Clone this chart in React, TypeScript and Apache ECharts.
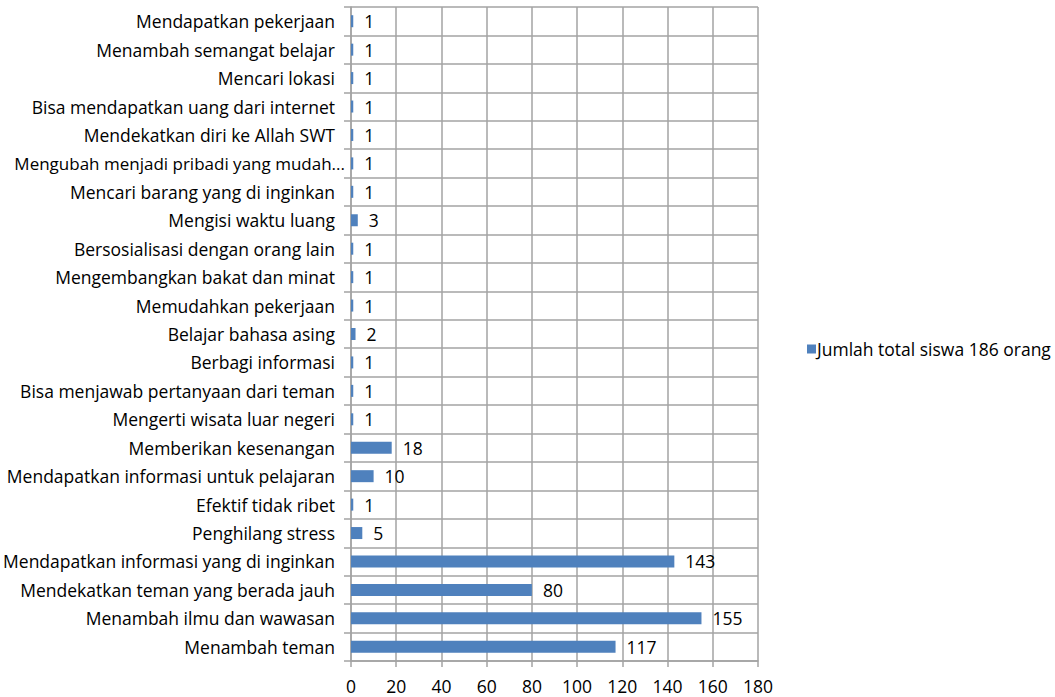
import React, { useEffect, useRef } from "react";
import * as echarts from "echarts";

const categories = [
  "Menambah teman",
  "Menambah ilmu dan wawasan",
  "Mendekatkan teman yang berada jauh",
  "Mendapatkan informasi yang di inginkan",
  "Penghilang stress",
  "Efektif tidak ribet",
  "Mendapatkan informasi untuk pelajaran",
  "Memberikan kesenangan",
  "Mengerti wisata luar negeri",
  "Bisa menjawab pertanyaan dari teman",
  "Berbagi informasi",
  "Belajar bahasa asing",
  "Memudahkan pekerjaan",
  "Mengembangkan bakat dan minat",
  "Bersosialisasi dengan orang lain",
  "Mengisi waktu luang",
  "Mencari barang yang di inginkan",
  "Mengubah menjadi pribadi yang mudah...",
  "Mendekatkan diri ke Allah SWT",
  "Bisa mendapatkan uang dari internet",
  "Mencari lokasi",
  "Menambah semangat belajar",
  "Mendapatkan pekerjaan",
];

const values = [117, 155, 80, 143, 5, 1, 10, 18, 1, 1, 1, 2, 1, 1, 1, 3, 1, 1, 1, 1, 1, 1, 1];

const seriesName = "Jumlah total siswa 186 orang";
const xMin = 0;
const xMax = 180;
const xStep = 20;

const FONT = "'Open Sans', sans-serif";
const FS = 17.5;
const GRID_COLOR = "#a3a3a3";

export default function App() {
  const ref = useRef<HTMLDivElement>(null);
  useEffect(() => {
    if (!ref.current) return;
    const chart = echarts.init(ref.current, undefined, { renderer: "svg" });
    const catData = categories.map((c) =>
      c.endsWith("...")
        ? { value: c, textStyle: { fontSize: 17, padding: [0, -10, 0, 0] } }
        : c
    );
    chart.setOption({
      animation: false,
      backgroundColor: "#ffffff",
      textStyle: { fontFamily: FONT },
      legend: {
        show: true,
        orient: "vertical",
        left: 802,
        top: 335,
        icon: "rect",
        itemWidth: 9,
        itemHeight: 9,
        itemGap: 4,
        textStyle: { fontFamily: FONT, fontSize: FS, color: "#000", padding: [0, 0, 0, -4] },
        data: [seriesName],
      },
      grid: {
        left: 351,
        right: 297,
        top: 7,
        bottom: 36,
        containLabel: false,
        outerBoundsMode: "none",
      },
      xAxis: {
        type: "value",
        min: xMin,
        max: xMax,
        interval: xStep,
        axisLine: { show: true, lineStyle: { color: GRID_COLOR, width: 1.5 } },
        axisTick: { show: true, length: 6, lineStyle: { color: GRID_COLOR, width: 1.5 } },
        splitLine: { show: true, lineStyle: { color: GRID_COLOR, width: 1.5 } },
        axisLabel: { fontFamily: FONT, fontSize: FS, color: "#000", margin: 16 },
      },
      yAxis: {
        type: "category",
        data: catData,
        axisLine: { show: true, lineStyle: { color: GRID_COLOR, width: 1.5 } },
        axisTick: { show: true, length: 7, alignWithLabel: false, lineStyle: { color: GRID_COLOR, width: 1.5 } },
        splitLine: { show: true, lineStyle: { color: GRID_COLOR, width: 1.5 } },
        axisLabel: { fontFamily: FONT, fontSize: FS, color: "#000", margin: 16 },
      },
      series: [
        {
          name: seriesName,
          type: "bar",
          data: values,
          barWidth: 12,
          itemStyle: { color: "#4F81BD" },
          label: {
            show: true,
            position: "right",
            distance: 11,
            fontFamily: FONT,
            fontSize: FS,
            color: "#000",
          },
        },
      ],
    });
    return () => chart.dispose();
  }, []);
  return <div ref={ref} style={{ width: 1055, height: 697, position: "absolute", left: 0, top: 0 }} />;
}
